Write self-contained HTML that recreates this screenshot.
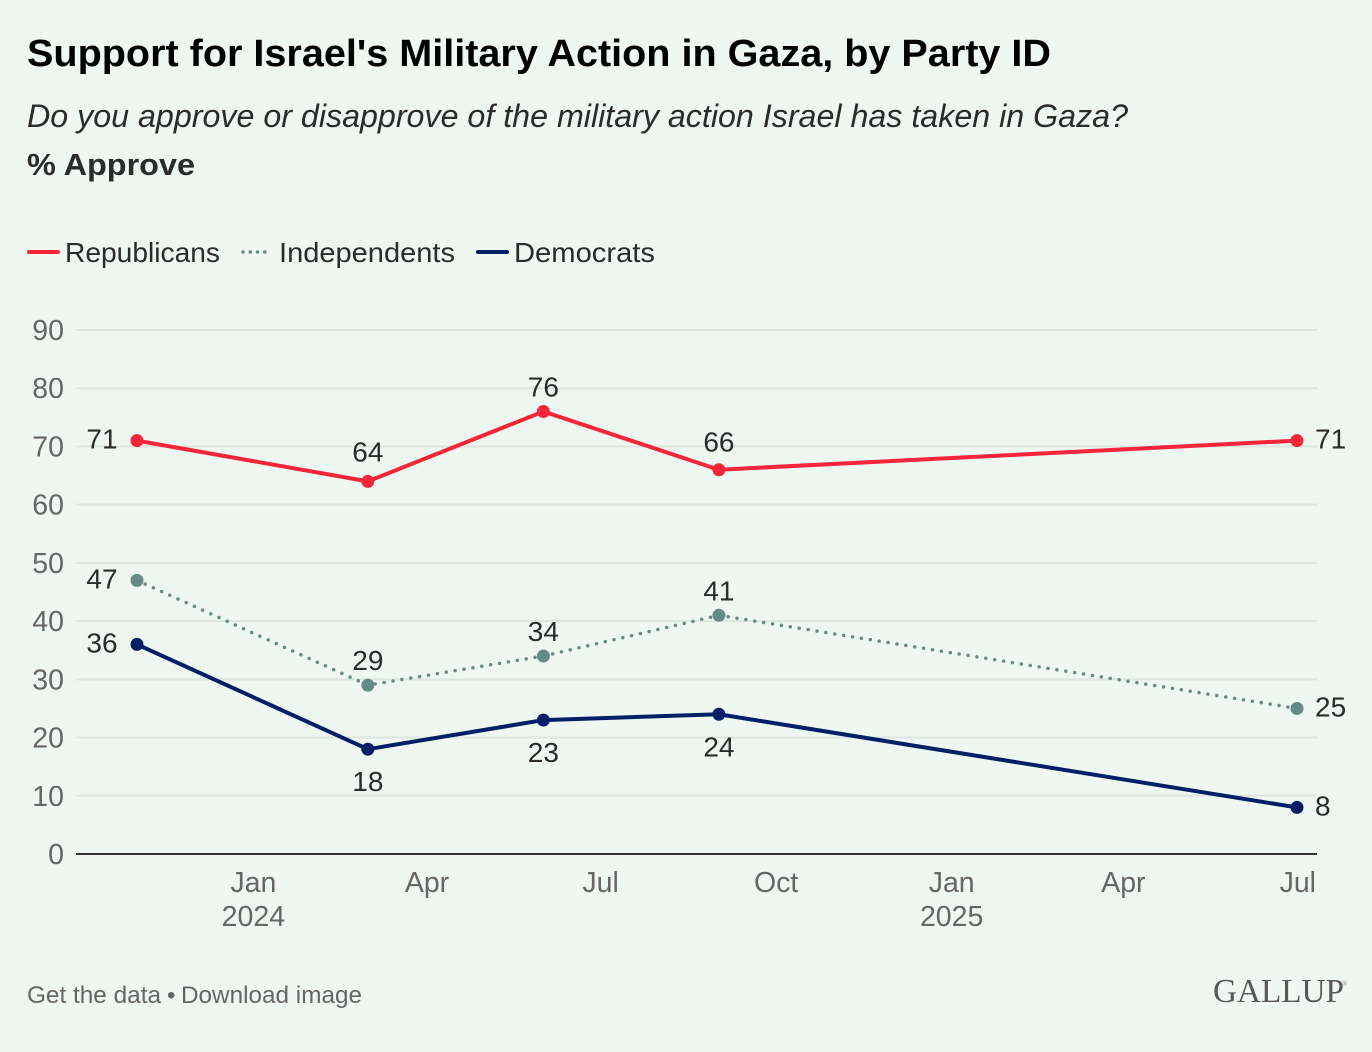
<!DOCTYPE html>
<html lang="en">
<head>
<meta charset="utf-8">
<title>Support for Israel's Military Action in Gaza, by Party ID</title>
<style>
html,body{margin:0;padding:0;background:#eef7f1;}
svg{display:block;font-family:"Liberation Sans",Arial,sans-serif;}
</style>
</head>
<body>
<svg id="chart" xmlns="http://www.w3.org/2000/svg" width="1372" height="1052" viewBox="0 0 1372 1052">
  <rect width="1372" height="1052" fill="#eef7f1"/>
  <text x="27" y="66" font-size="38" font-weight="700" fill="#000" textLength="1024" lengthAdjust="spacingAndGlyphs">Support for Israel's Military Action in Gaza, by Party ID</text>
  <text x="27" y="127" font-size="32" font-style="italic" fill="#2b2b2b" textLength="1101" lengthAdjust="spacingAndGlyphs">Do you approve or disapprove of the military action Israel has taken in Gaza?</text>
  <text x="27" y="175" font-size="31" font-weight="700" fill="#2b2b2b" textLength="168" lengthAdjust="spacingAndGlyphs">% Approve</text>

  <g>
    <g>
      <line x1="29" x2="58" y1="252" y2="252" stroke="#f5263a" stroke-width="4" stroke-linecap="round"/>
      <text x="65" y="262" font-size="28" fill="#2b2b2b" textLength="155" lengthAdjust="spacingAndGlyphs">Republicans</text>
    </g>
    <g>
      <line x1="243" x2="272" y1="252" y2="252" stroke="#668a85" stroke-width="3.5" stroke-linecap="round" stroke-dasharray="0 7.25"/>
      <text x="279" y="262" font-size="28" fill="#2b2b2b" textLength="176" lengthAdjust="spacingAndGlyphs">Independents</text>
    </g>
    <g>
      <line x1="478" x2="507" y1="252" y2="252" stroke="#001f66" stroke-width="4" stroke-linecap="round"/>
      <text x="514" y="262" font-size="28" fill="#2b2b2b" textLength="141" lengthAdjust="spacingAndGlyphs">Democrats</text>
    </g>
  </g>

  <g id="grid"></g>
  <g id="yticks"></g>
  <g id="xticks"></g>
  <line x1="76" x2="1317" y1="854" y2="854" stroke="#333" stroke-width="2"/>
  <g id="series"></g>

  <g>
    <text x="27" y="1003" font-size="24" fill="#666" textLength="134" lengthAdjust="spacingAndGlyphs">Get the data</text>
    <text x="167" y="1003" font-size="24" fill="#666">•</text>
    <text x="181" y="1003" font-size="24" fill="#666" textLength="181" lengthAdjust="spacingAndGlyphs">Download image</text>
  </g>
  <text x="1213" y="1002" font-family="'Liberation Serif',serif" font-size="34" fill="#58585a" textLength="131" lengthAdjust="spacingAndGlyphs">GALLUP</text>
  <text x="1342" y="986" font-family="'Liberation Serif',serif" font-size="7" fill="#8a8a8a">®</text>
</svg>

<script>
const surveyDates = ['2023-11-01', '2024-03-01', '2024-06-01', '2024-09-01', '2025-07-01'];
const republicans = [71, 64, 76, 66, 71];
const independents = [47, 29, 34, 41, 25];
const democrats = [36, 18, 23, 24, 8];
const republicanLabelSides = ['left', 'top3', 'top', 'top2', 'right'];
const independentLabelSides = ['left', 'top', 'top', 'top', 'right'];
const democratLabelSides = ['left', 'bottom', 'bottom', 'bottom', 'right'];
const yTickValues = [0, 10, 20, 30, 40, 50, 60, 70, 80, 90];
const xTickDates = ['2024-01-01', '2024-04-01', '2024-07-01', '2024-10-01', '2025-01-01', '2025-04-01', '2025-07-01'];
const xTickLabels = ['Jan', 'Apr', 'Jul', 'Oct', 'Jan', 'Apr', 'Jul'];
const xTickYears = ['2024', '', '', '', '2025', '', ''];

const NS = 'http://www.w3.org/2000/svg';
const plot = { left: 137, right: 1297, bottom: 854, top: 330, yMax: 90 };
const tMin = Date.parse(surveyDates[0]);
const tMax = Date.parse(surveyDates[surveyDates.length - 1]);

function xScale(dateString) {
  return plot.left + (Date.parse(dateString) - tMin) / (tMax - tMin) * (plot.right - plot.left);
}
function yScale(value) {
  return plot.bottom - value / plot.yMax * (plot.bottom - plot.top);
}
function make(tag, attrs, parent, text) {
  const el = document.createElementNS(NS, tag);
  for (const key in attrs) el.setAttribute(key, attrs[key]);
  if (text !== undefined) el.textContent = text;
  parent.appendChild(el);
  return el;
}

const gridGroup = document.getElementById('grid');
const yTickGroup = document.getElementById('yticks');
yTickValues.forEach(function (tick) {
  if (tick !== 0) {
    const gridline = make('line', { x1: 76, x2: 1317, y1: yScale(tick), y2: yScale(tick), stroke: '#dde6e0', 'stroke-width': 2 }, gridGroup);
    
    
  }
  const yLabel = make('text', { x: 64, y: yScale(tick) + 10, 'text-anchor': 'end', 'font-size': 28.5, fill: '#666' }, yTickGroup, String(tick));
  
  
});

const xTickGroup = document.getElementById('xticks');
xTickDates.forEach(function (date, i) {
  const last = i === xTickDates.length - 1;
  const cx = xScale(date);
  const monthLabel = make('text', {
    x: last ? 1316 : cx,
    y: 892,
    'text-anchor': last ? 'end' : 'middle',
    'font-size': 28.5,
    fill: '#666'
  }, xTickGroup, xTickLabels[i]);
  
  
  if (xTickYears[i]) {
    const yearLabel = make('text', { x: cx, y: 926, 'text-anchor': 'middle', 'font-size': 28.5, fill: '#666' }, xTickGroup, xTickYears[i]);
    
    
  }
});

const labelPlacement = {
  left: { dx: -35, dy: 8, anchor: 'middle' },
  right: { dx: 18, dy: 8, anchor: 'start' },
  top: { dx: 0, dy: -15, anchor: 'middle' },
  top2: { dx: 0, dy: -18, anchor: 'middle' },
  top3: { dx: 0, dy: -20, anchor: 'middle' },
  bottom: { dx: 0, dy: 42, anchor: 'middle' }
};

const seriesGroup = document.getElementById('series');
function drawSeries(name, values, sides, color, dash) {
  const group = make('g', {}, seriesGroup);
  
  

  const d = values.map(function (v, i) {
    return (i ? 'L' : 'M') + xScale(surveyDates[i]) + ' ' + yScale(v);
  }).join(' ');
  const lineAttrs = { d: d, fill: 'none', stroke: color, 'stroke-width': dash ? 3.5 : 4, 'stroke-linejoin': 'round' };
  if (dash) {
    lineAttrs['stroke-dasharray'] = dash;
    lineAttrs['stroke-linecap'] = 'round';
  }
  const linePath = make('path', lineAttrs, group);
  
  

  values.forEach(function (v, i) {
    const px = xScale(surveyDates[i]);
    const py = yScale(v);
    const point = make('circle', { cx: px, cy: py, r: 6.5, fill: color }, group);
    
    

    const place = labelPlacement[sides[i]];
    const valueLabel = make('text', {
      x: px + place.dx,
      y: py + place.dy,
      'text-anchor': place.anchor,
      'font-size': 28,
      fill: '#2b2b2b'
    }, group, String(v));
    
    
  });
}

drawSeries('independents', independents, independentLabelSides, '#668a85', '0 9');
drawSeries('democrats', democrats, democratLabelSides, '#001f66', null);
drawSeries('republicans', republicans, republicanLabelSides, '#f5263a', null);
</script>
</body>
</html>
